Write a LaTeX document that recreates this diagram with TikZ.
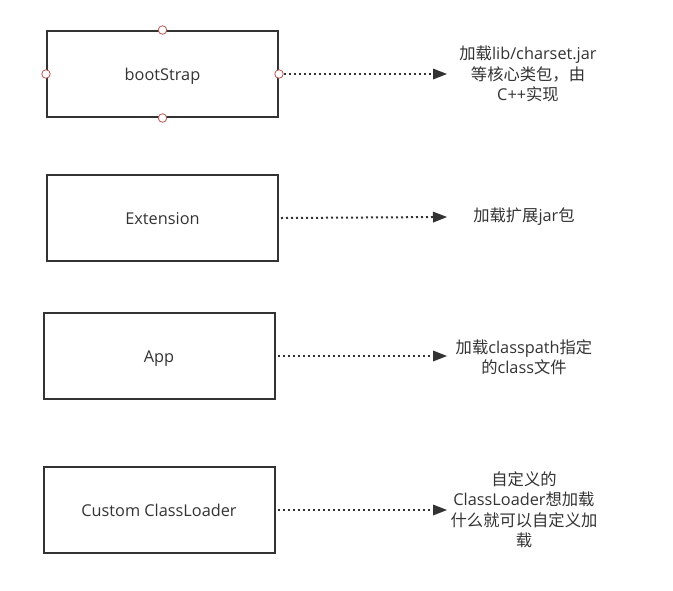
\documentclass[tikz,border=0pt]{standalone}
\usepackage{fontspec}
\setmainfont{Open Sans}
\newfontfamily\cjk{Noto Sans CJK SC}
\usetikzlibrary{arrows.meta}
\definecolor{ink}{HTML}{333333}
\definecolor{port}{HTML}{B85450}
\tikzset{
  box/.style={draw=ink, line width=2pt, minimum width=231pt, minimum height=86pt, inner sep=0pt, text=ink, text height=15pt, text depth=1.5pt, font=\fontsize{16.3}{20}\selectfont},
  note/.style={align=center, text=ink, inner sep=0pt, font=\fontsize{16.3}{20.5}\selectfont},
  link/.style={draw=ink, line width=2pt, dash pattern=on 2pt off 3pt, -{Triangle[length=14pt,width=11pt,line width=0pt]}},
  port/.style={circle, draw=port, fill=white, line width=0.8pt, minimum size=8.5pt, inner sep=0pt},
}
\begin{document}
\begin{tikzpicture}[x=1pt,y=-1pt]
\useasboundingbox (0,0) rectangle (673,590);
\node[box] (b1) at (162.5,74) {bootStrap};
\node[box] (b2) at (162.5,218) {Extension};
\node[box] (b3) at (159,356) {App};
\node[box] (b4) at (159,510) {Custom ClassLoader};
\foreach \a in {north,south,east,west} \node[port] at (b1.\a) {};
\coordinate (e1) at (447,74);
\coordinate (e2) at (447,217);
\coordinate (e3) at (447,356);
\coordinate (e4) at (447,510);
\draw[link] ([xshift=5pt]b1.east) -- (e1);
\draw[link] ([xshift=2pt]b2.east) -- (e2);
\draw[link] ([xshift=2pt]b3.east) -- (e3);
\draw[link] ([xshift=2pt]b4.east) -- (e4);
\node[note] (t1) at (528,74) {{\cjk 加载}lib/charset.jar\\{\cjk 等核心类包，由}\\C++{\cjk 实现}};
\node[note] (t2) at (524,217) {{\cjk 加载扩展}jar{\cjk 包}};
\node[note] (t3) at (524,357) {{\cjk 加载}classpath{\cjk 指定}\\{\cjk 的}class{\cjk 文件}};
\node[note] (t4) at (524,510) {{\cjk 自定义的}\\ClassLoader{\cjk 想加载}\\{\cjk 什么就可以自定义加}\\{\cjk 载}};
\end{tikzpicture}
\end{document}
